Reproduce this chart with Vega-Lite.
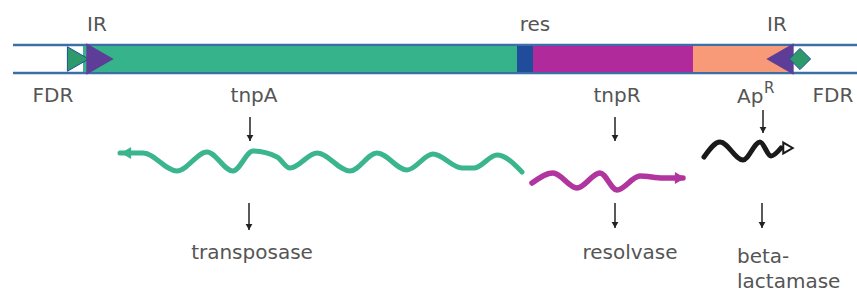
{
  "$schema": "https://vega.github.io/schema/vega-lite/v6.json",
  "width": 857,
  "height": 293,
  "padding": 0,
  "autosize": {"type": "none"},
  "background": "white",
  "config": {"view": {"stroke": null}},
  "datasets": {
    "lines": [{"y": 45, "x1": 13, "x2": 857}, {"y": 73, "x1": 13, "x2": 857}],
    "segments": [
      {"name": "tnpA", "x1": 83, "x2": 517, "color": "#37b38b"},
      {"name": "res", "x1": 517, "x2": 533, "color": "#1f4d9c"},
      {"name": "tnpR", "x1": 533, "x2": 693, "color": "#b02a9c"},
      {"name": "ApR", "x1": 693, "x2": 792, "color": "#f89a77"}
    ],
    "irRight": [{"x": 100, "y": 59}],
    "irLeft": [{"x": 780, "y": 59}],
    "fdrRight": [{"x": 78, "y": 59}],
    "fdrDiamond": [{"x": 800, "y": 59}],
    "waveA": [
      {"x": 120, "y": 153}, {"x": 143, "y": 153}, {"x": 177, "y": 171}, {"x": 207, "y": 152},
      {"x": 233, "y": 171}, {"x": 253, "y": 151}, {"x": 277, "y": 157}, {"x": 290, "y": 168},
      {"x": 317, "y": 153}, {"x": 350, "y": 171}, {"x": 377, "y": 153}, {"x": 407, "y": 170},
      {"x": 433, "y": 154}, {"x": 462, "y": 168}, {"x": 474, "y": 168}, {"x": 497, "y": 155},
      {"x": 522, "y": 172}
    ],
    "waveR": [
      {"x": 532, "y": 183}, {"x": 553, "y": 173}, {"x": 577, "y": 188}, {"x": 600, "y": 173},
      {"x": 617, "y": 190}, {"x": 640, "y": 176}, {"x": 663, "y": 178}, {"x": 683, "y": 178}
    ],
    "waveB": [
      {"x": 704, "y": 157}, {"x": 720, "y": 142}, {"x": 743, "y": 160}, {"x": 760, "y": 142},
      {"x": 771, "y": 156}, {"x": 781, "y": 148}
    ],
    "headA": [{"x": 126, "y": 153}],
    "headR": [{"x": 680, "y": 178}],
    "headB": [{"x": 788, "y": 148}],
    "arrows": [
      {"x": 250, "y1": 117, "y2": 141}, {"x": 615, "y1": 117, "y2": 141}, {"x": 763, "y1": 110, "y2": 133},
      {"x": 249, "y1": 203, "y2": 230}, {"x": 615, "y1": 203, "y2": 228}, {"x": 762, "y1": 203, "y2": 228}
    ],
    "labelsC": [
      {"text": "IR", "x": 97, "y": 25}, {"text": "res", "x": 535, "y": 25}, {"text": "IR", "x": 777, "y": 25},
      {"text": "FDR", "x": 53, "y": 96}, {"text": "tnpA", "x": 254, "y": 96}, {"text": "tnpR", "x": 617, "y": 96},
      {"text": "FDR", "x": 833, "y": 96},
      {"text": "transposase", "x": 252, "y": 253}, {"text": "resolvase", "x": 630, "y": 253}
    ],
    "labelsL": [
      {"text": "Ap", "x": 737, "y": 97}, {"text": "beta-", "x": 737, "y": 257}, {"text": "lactamase", "x": 737, "y": 282}
    ],
    "labelsS": [{"text": "R", "x": 764, "y": 88}]
  },
  "encoding": {},
  "layer": [
    {
      "data": {"name": "lines"},
      "mark": {"type": "rule", "color": "#3c6fa8", "strokeWidth": 2.5},
      "encoding": {
        "x": {"field": "x1", "type": "quantitative", "scale": {"domain": [0, 857]}, "axis": null},
        "x2": {"field": "x2"},
        "y": {"field": "y", "type": "quantitative", "scale": {"domain": [0, 293], "reverse": true}, "axis": null}
      }
    },
    {
      "data": {"name": "segments"},
      "mark": {"type": "rect"},
      "encoding": {
        "x": {"field": "x1", "type": "quantitative", "scale": {"domain": [0, 857]}, "axis": null},
        "x2": {"field": "x2"},
        "y": {"datum": 46, "type": "quantitative", "scale": {"domain": [0, 293], "reverse": true}, "axis": null},
        "y2": {"datum": 72},
        "color": {"field": "color", "type": "nominal", "scale": null, "legend": null}
      }
    },
    {
      "data": {"name": "fdrRight"},
      "mark": {"type": "point", "shape": "triangle-right", "filled": true, "color": "#2e9a6c", "size": 600, "stroke": "#1f4d9c", "strokeWidth": 1, "opacity": 1},
      "encoding": {
        "x": {"field": "x", "type": "quantitative", "scale": {"domain": [0, 857]}, "axis": null},
        "y": {"field": "y", "type": "quantitative", "scale": {"domain": [0, 293], "reverse": true}, "axis": null}
      }
    },
    {
      "data": {"name": "irRight"},
      "mark": {"type": "point", "shape": "triangle-right", "filled": true, "color": "#5e3d98", "size": 1000, "opacity": 1},
      "encoding": {
        "x": {"field": "x", "type": "quantitative", "scale": {"domain": [0, 857]}, "axis": null},
        "y": {"field": "y", "type": "quantitative", "scale": {"domain": [0, 293], "reverse": true}, "axis": null}
      }
    },
    {
      "data": {"name": "irLeft"},
      "mark": {"type": "point", "shape": "triangle-left", "filled": true, "color": "#5e3d98", "size": 1000, "opacity": 1},
      "encoding": {
        "x": {"field": "x", "type": "quantitative", "scale": {"domain": [0, 857]}, "axis": null},
        "y": {"field": "y", "type": "quantitative", "scale": {"domain": [0, 293], "reverse": true}, "axis": null}
      }
    },
    {
      "data": {"name": "fdrDiamond"},
      "mark": {"type": "point", "shape": "diamond", "filled": true, "color": "#2e9a6c", "size": 450, "stroke": "#1f4d9c", "strokeWidth": 1, "opacity": 1},
      "encoding": {
        "x": {"field": "x", "type": "quantitative", "scale": {"domain": [0, 857]}, "axis": null},
        "y": {"field": "y", "type": "quantitative", "scale": {"domain": [0, 293], "reverse": true}, "axis": null}
      }
    },
    {
      "data": {"name": "waveA"},
      "mark": {"type": "line", "color": "#3bb58e", "strokeWidth": 5, "interpolate": "monotone", "strokeCap": "round"},
      "encoding": {
        "x": {"field": "x", "type": "quantitative", "scale": {"domain": [0, 857]}, "axis": null},
        "y": {"field": "y", "type": "quantitative", "scale": {"domain": [0, 293], "reverse": true}, "axis": null}
      }
    },
    {
      "data": {"name": "waveR"},
      "mark": {"type": "line", "color": "#b1359f", "strokeWidth": 5.5, "interpolate": "monotone", "strokeCap": "round"},
      "encoding": {
        "x": {"field": "x", "type": "quantitative", "scale": {"domain": [0, 857]}, "axis": null},
        "y": {"field": "y", "type": "quantitative", "scale": {"domain": [0, 293], "reverse": true}, "axis": null}
      }
    },
    {
      "data": {"name": "waveB"},
      "mark": {"type": "line", "color": "#1a1a1a", "strokeWidth": 5, "interpolate": "monotone", "strokeCap": "round"},
      "encoding": {
        "x": {"field": "x", "type": "quantitative", "scale": {"domain": [0, 857]}, "axis": null},
        "y": {"field": "y", "type": "quantitative", "scale": {"domain": [0, 293], "reverse": true}, "axis": null}
      }
    },
    {
      "data": {"name": "headA"},
      "mark": {"type": "point", "shape": "triangle-left", "filled": true, "color": "#3bb58e", "size": 140, "opacity": 1},
      "encoding": {
        "x": {"field": "x", "type": "quantitative", "scale": {"domain": [0, 857]}, "axis": null},
        "y": {"field": "y", "type": "quantitative", "scale": {"domain": [0, 293], "reverse": true}, "axis": null}
      }
    },
    {
      "data": {"name": "headR"},
      "mark": {"type": "point", "shape": "triangle-right", "filled": true, "color": "#b1359f", "size": 140, "opacity": 1},
      "encoding": {
        "x": {"field": "x", "type": "quantitative", "scale": {"domain": [0, 857]}, "axis": null},
        "y": {"field": "y", "type": "quantitative", "scale": {"domain": [0, 293], "reverse": true}, "axis": null}
      }
    },
    {
      "data": {"name": "headB"},
      "mark": {"type": "point", "shape": "triangle-right", "filled": true, "fill": "white", "stroke": "#1a1a1a", "strokeWidth": 2, "size": 120, "opacity": 1},
      "encoding": {
        "x": {"field": "x", "type": "quantitative", "scale": {"domain": [0, 857]}, "axis": null},
        "y": {"field": "y", "type": "quantitative", "scale": {"domain": [0, 293], "reverse": true}, "axis": null}
      }
    },
    {
      "data": {"name": "arrows"},
      "mark": {"type": "rule", "color": "#222", "strokeWidth": 1.5},
      "encoding": {
        "x": {"field": "x", "type": "quantitative", "scale": {"domain": [0, 857]}, "axis": null},
        "y": {"field": "y1", "type": "quantitative", "scale": {"domain": [0, 293], "reverse": true}, "axis": null},
        "y2": {"field": "y2"}
      }
    },
    {
      "data": {"name": "arrows"},
      "mark": {"type": "point", "shape": "triangle-down", "filled": true, "color": "#222", "size": 45, "opacity": 1, "yOffset": -3},
      "encoding": {
        "x": {"field": "x", "type": "quantitative", "scale": {"domain": [0, 857]}, "axis": null},
        "y": {"field": "y2", "type": "quantitative", "scale": {"domain": [0, 293], "reverse": true}, "axis": null}
      }
    },
    {
      "data": {"name": "labelsC"},
      "mark": {"type": "text", "font": "DejaVu Sans", "fontSize": 20, "color": "#555555", "align": "center", "baseline": "middle"},
      "encoding": {
        "x": {"field": "x", "type": "quantitative", "scale": {"domain": [0, 857]}, "axis": null},
        "y": {"field": "y", "type": "quantitative", "scale": {"domain": [0, 293], "reverse": true}, "axis": null},
        "text": {"field": "text"}
      }
    },
    {
      "data": {"name": "labelsL"},
      "mark": {"type": "text", "font": "DejaVu Sans", "fontSize": 20, "color": "#555555", "align": "left", "baseline": "middle"},
      "encoding": {
        "x": {"field": "x", "type": "quantitative", "scale": {"domain": [0, 857]}, "axis": null},
        "y": {"field": "y", "type": "quantitative", "scale": {"domain": [0, 293], "reverse": true}, "axis": null},
        "text": {"field": "text"}
      }
    },
    {
      "data": {"name": "labelsS"},
      "mark": {"type": "text", "font": "DejaVu Sans", "fontSize": 15, "color": "#555555", "align": "left", "baseline": "middle"},
      "encoding": {
        "x": {"field": "x", "type": "quantitative", "scale": {"domain": [0, 857]}, "axis": null},
        "y": {"field": "y", "type": "quantitative", "scale": {"domain": [0, 293], "reverse": true}, "axis": null},
        "text": {"field": "text"}
      }
    }
  ]
}
